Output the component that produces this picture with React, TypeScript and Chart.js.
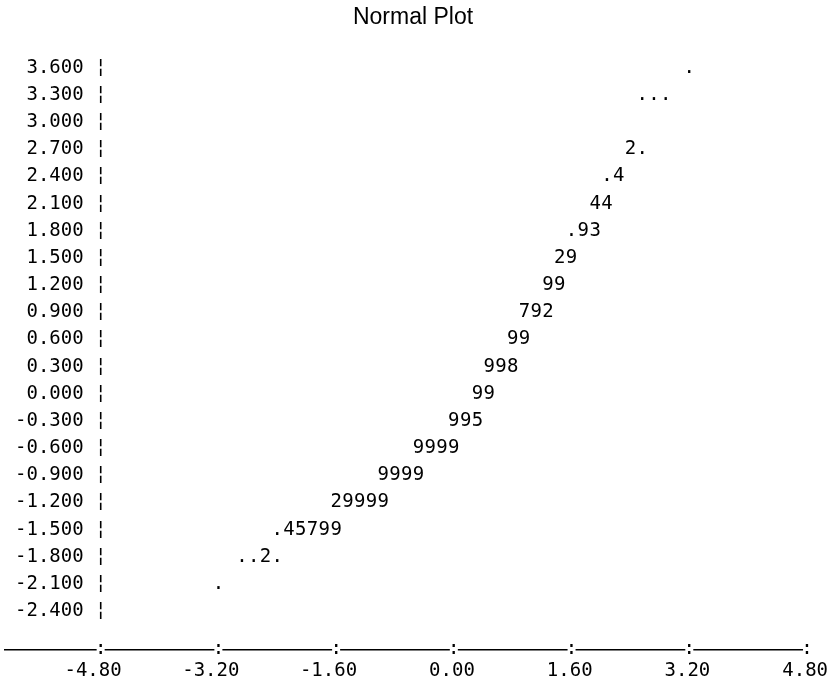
import React, { useEffect, useRef } from "react";
import { Chart, registerables } from "chart.js";

Chart.register(...registerables);

const TITLE = "Normal Plot";

// y tick labels (row values of the character plot)
const yTickValues = [3.6, 3.3, 3.0, 2.7, 2.4, 2.1, 1.8, 1.5, 1.2, 0.9, 0.6, 0.3, 0.0, -0.3, -0.6, -0.9, -1.2, -1.5, -1.8, -2.1, -2.4];
// x tick labels
const xTickValues = [-4.8, -3.2, -1.6, 0.0, 1.6, 3.2, 4.8];

// plotted rows: y value, symbols and the x value of each symbol
const rowY = [3.6, 3.3, 2.7, 2.4, 2.1, 1.8, 1.5, 1.2, 0.9, 0.6, 0.3, 0.0, -0.3, -0.6, -0.9, -1.2, -1.5, -1.8, -2.1];
const rowSymbols = [".", "...", "2.", ".4", "44", ".93", "29", "99", "792", "99", "998", "99", "995", "9999", "9999", "29999", ".45799", "..2.", "."];
const rowX = [
  [3.2],
  [2.56, 2.72, 2.88],
  [2.4, 2.56],
  [2.08, 2.24],
  [1.92, 2.08],
  [1.6, 1.76, 1.92],
  [1.44, 1.6],
  [1.28, 1.44],
  [0.96, 1.12, 1.28],
  [0.8, 0.96],
  [0.48, 0.64, 0.8],
  [0.32, 0.48],
  [0.0, 0.16, 0.32],
  [-0.48, -0.32, -0.16, 0.0],
  [-0.96, -0.8, -0.64, -0.48],
  [-1.6, -1.44, -1.28, -1.12, -0.96],
  [-2.4, -2.24, -2.08, -1.92, -1.76, -1.6],
  [-2.88, -2.72, -2.56, -2.4],
  [-3.2],
];

const MONO = '"DejaVu Sans Mono", "Liberation Mono", monospace';

export default function App() {
  const ref = useRef<HTMLCanvasElement>(null);

  useEffect(() => {
    if (!ref.current) return;
    const points: { x: number; y: number }[] = [];
    const chars: string[] = [];
    rowY.forEach((y, r) => {
      rowX[r].forEach((x, i) => {
        points.push({ x, y });
        chars.push(rowSymbols[r][i]);
      });
    });

    const asciiPlugin = {
      id: "asciiMarks",
      afterDraw(chart: any) {
        const ctx = chart.ctx;
        const meta = chart.getDatasetMeta(0);
        ctx.save();
        ctx.font = `19px ${MONO}`;
        ctx.textAlign = "center";
        ctx.textBaseline = "middle";
        ctx.fillStyle = "#000";
        meta.data.forEach((el: any, i: number) => {
          ctx.fillText(chars[i], el.x, el.y);
        });
        const xs = chart.scales.x;
        const yb = chart.chartArea.bottom;
        // dashed axis line ends at the last tick
        const xEnd = xs.getPixelForValue(xTickValues[xTickValues.length - 1]);
        ctx.fillStyle = "#fff";
        ctx.fillRect(xEnd + 1, yb - 3, chart.chartArea.right - xEnd + 2, 6);
        xTickValues.forEach((v) => {
          const px = xs.getPixelForValue(v);
          ctx.fillStyle = "#fff";
          ctx.fillRect(px - 4, yb - 3, 8, 6);
          ctx.fillStyle = "#000";
          ctx.fillText(":", px, yb - 1);
        });
        ctx.restore();
      },
    };

    const chart = new Chart(ref.current, {
      type: "scatter",
      data: {
        datasets: [
          {
            data: points,
            pointRadius: 0,
            pointHoverRadius: 0,
            showLine: false,
          },
        ],
      },
      options: {
        animation: false,
        responsive: false,
        events: [],
        layout: { padding: { left: 5, right: 10, top: 0, bottom: 0 } },
        plugins: {
          legend: { display: false },
          tooltip: { enabled: false },
          title: {
            display: true,
            text: TITLE,
            color: "#000",
            font: { family: '"Liberation Sans", Arial, sans-serif', size: 23, weight: "normal" },
            padding: { top: 4, bottom: 22.6 },
          },
        },
        scales: {
          x: {
            type: "linear",
            min: -6.1,
            max: 4.99,
            afterBuildTicks: (s: any) => {
              s.ticks = xTickValues.map((value) => ({ value }));
            },
            grid: { display: false, drawTicks: false },
            border: { display: true, color: "#000", width: 1.5 },
            ticks: {
              callback: (v: any) => Number(v).toFixed(2),
              font: { family: MONO, size: 19 },
              color: "#000",
              align: "end",
              labelOffset: 21,
              padding: 9.6,
              maxRotation: 0,
              autoSkip: false,
            },
          },
          y: {
            type: "linear",
            min: -2.83,
            max: 3.75,
            position: { x: -4.72 },
            afterBuildTicks: (s: any) => {
              s.ticks = yTickValues.map((value) => ({ value }));
            },
            grid: { display: false, drawTicks: false },
            border: { display: false },
            ticks: {
              callback: (v: any) => `${Number(v).toFixed(3)} \u00A6`,
              font: { family: MONO, size: 19 },
              color: "#000",
              padding: 0,
              autoSkip: false,
            },
          },
        },
      } as any,
      plugins: [asciiPlugin],
    });
    return () => chart.destroy();
  }, []);

  return (
    <canvas
      ref={ref}
      width={831}
      height={692}
      style={{ position: "absolute", left: 0, top: 0, display: "block", background: "#fff" }}
    />
  );
}
